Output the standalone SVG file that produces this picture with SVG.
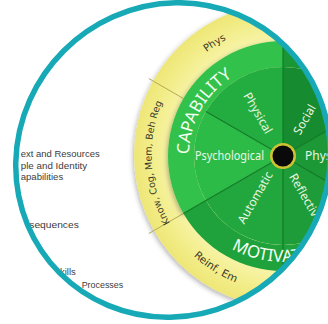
<svg xmlns="http://www.w3.org/2000/svg" width="328" height="324" viewBox="0 0 328 324">
<defs>
<clipPath id="clip"><ellipse cx="173" cy="160" rx="161" ry="155.5" transform="rotate(-45 173 160)"/></clipPath>
<filter id="sh" x="-20%" y="-20%" width="140%" height="140%"><feDropShadow dx="-1" dy="2" stdDeviation="2.5" flood-color="#000" flood-opacity="0.3"/></filter>
<radialGradient id="yg" gradientUnits="userSpaceOnUse" cx="287" cy="155" r="153">
<stop offset="0.74" stop-color="#f7f4ac"/><stop offset="0.88" stop-color="#f3ee8c"/><stop offset="1" stop-color="#eee676"/>
</radialGradient>
<path id="pPhysY" d="M 170.7 95 A 130 130 0 0 1 280.3 25.1"/>
<path id="pKnow" d="M 197.1 255.9 A 134.5 134.5 0 0 1 185.1 66.1"/>
<path id="pReinf" d="M 165 219.3 A 137 137 0 0 0 281.2 291.9"/>
<path id="pCap" d="M 189.01 154.36 A 94 94 0 0 1 274.8 62.36"/>
<path id="pMot" d="M 231.61 248.71 A 106 106 0 0 0 374.8 209"/>
</defs>
<style>
.tdf{font-family:"Liberation Sans",Arial,sans-serif;font-size:9.5px;fill:#3c3c3c}
.yl{font-family:"DejaVu Sans",Verdana,sans-serif;font-size:10px;fill:#3a3a28}
.big{font-family:"Noto Sans",sans-serif;font-size:17px;fill:#f4fff2}
.in{font-family:"Noto Sans",sans-serif;font-size:12px;fill:#e8f7e2}
.sl{stroke:#137a27;stroke-width:1.2;fill:none}
.dv{stroke:#b3ab55;stroke-width:1}
</style>
<rect width="328" height="324" fill="#fff"/>
<g clip-path="url(#clip)">
  <g id="tdf-list">
    <text class="tdf" x="20.7" y="157" textLength="79" lengthAdjust="spacingAndGlyphs">ext and Resources</text>
    <text class="tdf" x="20.7" y="168.5" textLength="66.5" lengthAdjust="spacingAndGlyphs">ple and Identity</text>
    <text class="tdf" x="20.7" y="179.5" textLength="42.5" lengthAdjust="spacingAndGlyphs">apabilities</text>
    <text class="tdf" x="29.3" y="227.7" textLength="49.5" lengthAdjust="spacingAndGlyphs">sequences</text>
    <text class="tdf" x="60" y="275">kills</text>
    <text class="tdf" x="81.7" y="288" textLength="41.5" lengthAdjust="spacingAndGlyphs">Processes</text>
  </g>
  <g id="outer-ring">
    <circle cx="287" cy="155" r="153" fill="url(#yg)" filter="url(#sh)"/>
    <line class="dv" x1="183.4" y1="213.5" x2="148.8" y2="233.5"/>
    <line class="dv" x1="183.4" y1="98.5" x2="148.8" y2="78.5"/>
    <line class="dv" x1="283" y1="41" x2="283" y2="0"/>
    <line class="dv" x1="283" y1="271" x2="283" y2="310"/>
  </g>
  <g id="label-phys-y"><text class="yl"><textPath href="#pPhysY" startOffset="50%" text-anchor="middle">Phys</textPath></text></g>
  <g id="label-know"><text class="yl" style="font-size:9.5px"><textPath href="#pKnow" startOffset="50%" text-anchor="middle">Know, Cog, Mem, Beh Reg</textPath></text></g>
  <g id="label-reinf"><text class="yl" style="font-size:10.5px"><textPath href="#pReinf" startOffset="50%" text-anchor="middle">Reinf,  Em</textPath></text></g>
  <g id="capability" filter="url(#sh)">
    <path d="M 183.41 213.5 A 115 115 0 0 1 283 41 L 283 67 A 89 89 0 0 0 205.93 200.5 Z" fill="#33c24c"/>
  </g>
  <g id="opportunity">
    <path d="M 283 41 A 115 115 0 0 1 382.59 213.5 L 360.07 200.5 A 89 89 0 0 0 283 67 Z" fill="#1a9634"/>
  </g>
  <g id="motivation">
    <path d="M 382.59 213.5 A 115 115 0 0 1 183.41 213.5 L 205.93 200.5 A 89 89 0 0 0 360.07 200.5 Z" fill="#1fa23b"/>
  </g>
  <g id="psychological">
    <path d="M 283 156 L 205.93 200.5 A 89 89 0 0 1 205.93 111.5 Z" fill="#2dbb48"/>
    <text class="in" x="229.5" y="160" text-anchor="middle" textLength="69" lengthAdjust="spacingAndGlyphs">Psychological</text>
  </g>
  <g id="physical-c">
    <path d="M 283 156 L 205.93 111.5 A 89 89 0 0 1 283 67 Z" fill="#23ad41"/>
    <text class="in" transform="translate(258 113) rotate(60)" text-anchor="middle" dy="0.35em">Physical</text>
  </g>
  <g id="social">
    <path d="M 283 156 L 283 67 A 89 89 0 0 1 360.07 111.5 Z" fill="#178b2f"/>
    <text class="in" transform="translate(304.5 119.5) rotate(-60)" text-anchor="middle" dy="0.35em">Social</text>
  </g>
  <g id="physical-o">
    <path d="M 283 156 L 360.07 111.5 A 89 89 0 0 1 360.07 200.5 Z" fill="#1c9837"/>
    <text class="in" x="305" y="160">Physical</text>
  </g>
  <g id="reflective">
    <path d="M 283 156 L 360.07 200.5 A 89 89 0 0 1 283 245 Z" fill="#1e9c39"/>
    <text class="in" transform="translate(306 198) rotate(60)" text-anchor="middle" dy="0.35em">Reflective</text>
  </g>
  <g id="automatic">
    <path d="M 283 156 L 283 245 A 89 89 0 0 1 205.93 200.5 Z" fill="#22a63e"/>
    <text class="in" transform="translate(255 197.5) rotate(-60)" text-anchor="middle" dy="0.35em">Automatic</text>
  </g>
  <g id="connectors">
    <line class="sl" x1="283" y1="156" x2="183.41" y2="213.5"/>
    <line class="sl" x1="283" y1="156" x2="205.93" y2="111.5"/>
    <line class="sl" x1="283" y1="156" x2="283" y2="41"/>
    <line class="sl" x1="283" y1="156" x2="360.07" y2="111.5"/>
    <line class="sl" x1="283" y1="156" x2="382.59" y2="213.5"/>
    <line class="sl" x1="283" y1="156" x2="283" y2="271"/>
  </g>
  <g id="label-capability"><text class="big"><textPath href="#pCap">CAPABILITY</textPath></text></g>
  <g id="label-motivation"><text class="big"><textPath href="#pMot">MOTIVATION</textPath></text></g>
  <g id="hub">
    <circle cx="283" cy="156" r="13" fill="#cdc332"/>
    <circle cx="283" cy="156" r="10.5" fill="#0a0a0a"/>
  </g>
</g>
<ellipse cx="173" cy="160" rx="160" ry="154.5" transform="rotate(-45 173 160)" fill="none" stroke="#17a9b6" stroke-width="5.5"/>
</svg>
